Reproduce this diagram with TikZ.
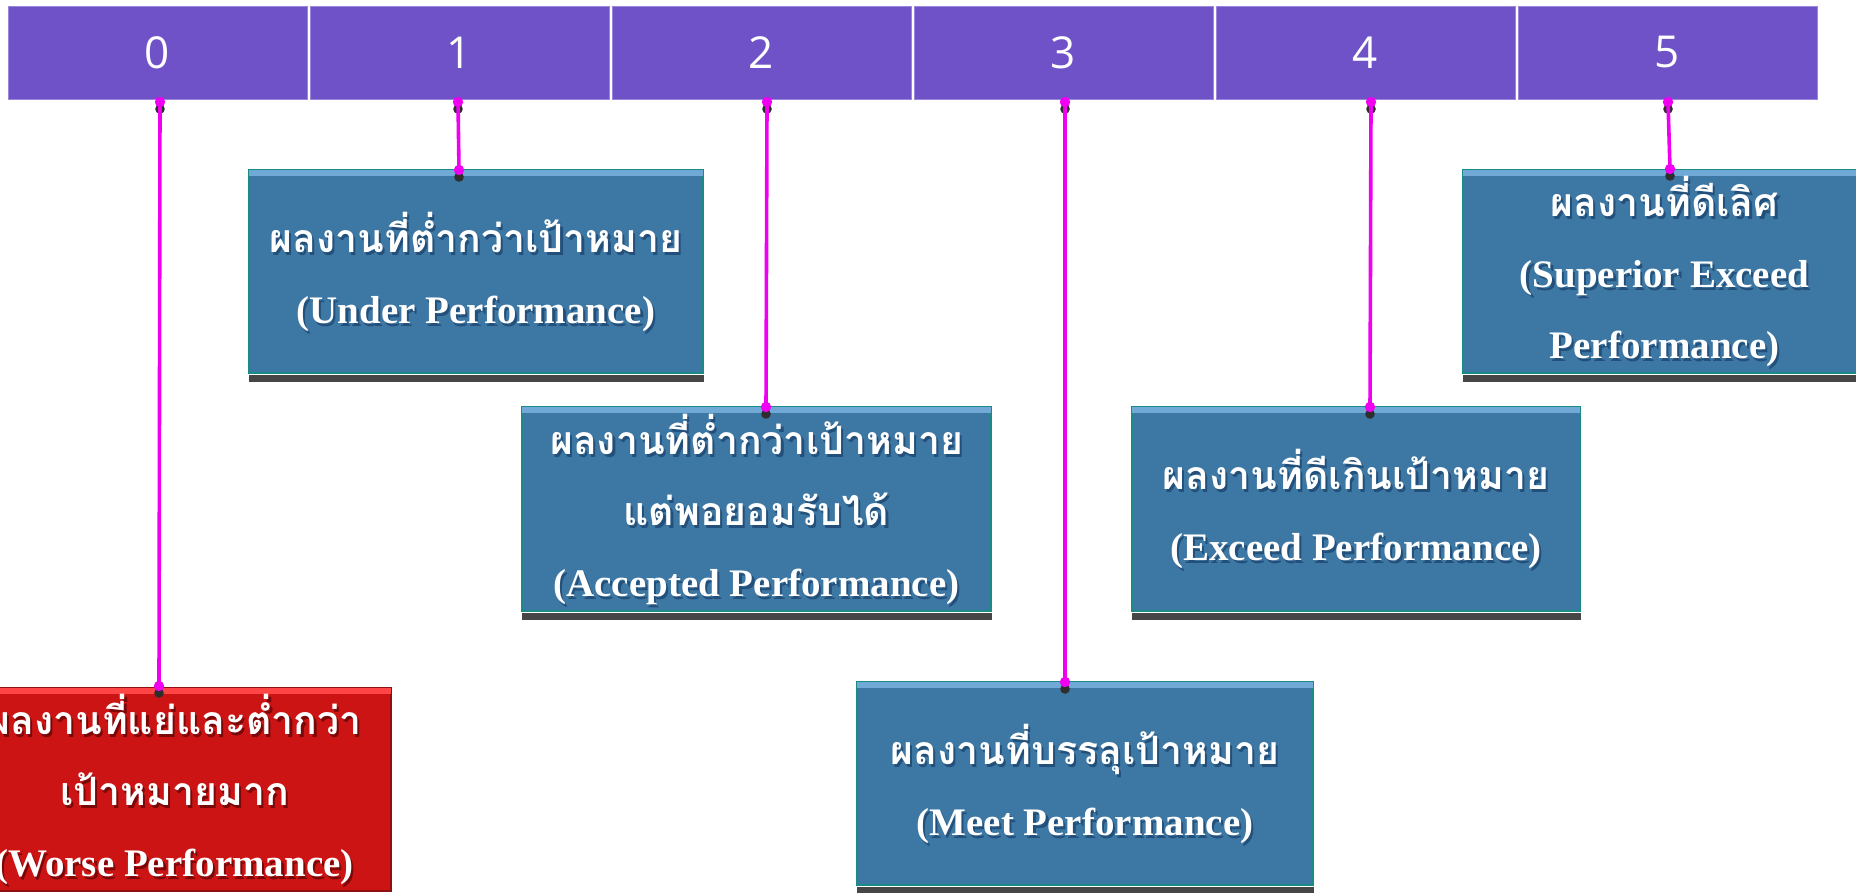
\documentclass[tikz,border=0pt]{standalone}
\usepackage{fontspec}
\setmainfont{Liberation Serif}
\newfontfamily\thaifont[Script=Thai]{Loma}
\newfontfamily\numfont{Open Sans}
\usetikzlibrary{calc}
\definecolor{cellpurple}{HTML}{7052C8}
\definecolor{celledge}{HTML}{9A86DC}
\definecolor{boxblue}{HTML}{3D77A3}
\definecolor{boxedge}{HTML}{1A8C84}
\definecolor{stripblue}{HTML}{70A8D6}
\definecolor{tshblue}{HTML}{23507A}
\definecolor{boxred}{HTML}{CC1414}
\definecolor{edgered}{HTML}{8E1010}
\definecolor{stripred}{HTML}{FF4545}
\definecolor{tshred}{HTML}{7A0808}
\definecolor{shadegray}{HTML}{464646}
\definecolor{linkmag}{HTML}{F000F0}
\definecolor{dotdark}{HTML}{2E2E2E}
\newcommand\thai{\thaifont\fontsize{19.6}{35.5}\selectfont}
\tikzset{
  cell/.style={rectangle, fill=cellpurple, draw=celledge, line width=0.4pt,
    minimum width=149.5pt, minimum height=46.5pt, inner sep=0pt,
    text=white, font=\numfont\fontsize{22}{26}\selectfont},
  cardblue/.style={rectangle, fill=boxblue, draw=boxedge, line width=1pt, inner sep=0pt},
  cardred/.style={rectangle, fill=boxred, draw=edgered, line width=1pt, inner sep=0pt},
  stripcolblue/.style={fill=stripblue},
  stripcolred/.style={fill=stripred},
  shade/.style={fill=shadegray},
  ctext/.style={align=center, inner sep=0pt, text=white,
    font=\bfseries\fontsize{19.5}{35.5}\selectfont},
  conn/.style={draw=linkmag, line width=1.8pt},
  magdot/.style={fill=linkmag},
  darkdot/.style={fill=dotdark}
}
% name, center, width, height, type, text
\newcommand\card[6]{%
  \node[card#5, minimum width=#3, minimum height=#4] (#1) at (#2) {};
  \fill[stripcol#5] ([shift={(0.5pt,-0.5pt)}]#1.north west) rectangle ([shift={(-0.5pt,-3.5pt)}]#1.north east);
  \fill[shade] ([shift={(0.5pt,-0.5pt)}]#1.south west) rectangle ([yshift=-3.8pt]#1.south east);
  \node[ctext, text=tsh#5] at ([shift={(1.1pt,-1.6pt)}]#1.center) {#6};
  \node[ctext] (#1t) at (#1.center) {#6};
}
\begin{document}
\begin{tikzpicture}[x=0.5pt, y=-0.5pt]
\useasboundingbox (0,0) rectangle (1856,893);
\clip (0,0) rectangle (1856,893);
\fill[white] (0,0) rectangle (1856,893);
% scale cells
\node[cell] (c0) at (157.5,52.5) {\raisebox{-2pt}{0}};
\node[cell] (c1) at (459.5,52.5) {\raisebox{-2pt}{1}};
\node[cell] (c2) at (761.5,52.5) {\raisebox{-2pt}{2}};
\node[cell] (c3) at (1063.5,52.5) {\raisebox{-2pt}{3}};
\node[cell] (c4) at (1365.5,52.5) {\raisebox{-2pt}{4}};
\node[cell] (c5) at (1667.5,52.5) {\raisebox{-2pt}{5}};
% cards
\card{b0}{174.5,789.5}{216.5pt}{101.5pt}{red}{{\thai ผลงานที่แย่และต่ำกว่า}\\{\thai เป้าหมายมาก}\\(Worse Performance)}
\card{b1}{476,271.5}{227pt}{101.5pt}{blue}{{\thai ผลงานที่ต่ำกว่าเป้าหมาย}\\(Under Performance)}
\card{b2}{756.5,509}{234.5pt}{102pt}{blue}{{\thai ผลงานที่ต่ำกว่าเป้าหมาย}\\{\thai แต่พอยอมรับได้}\\(Accepted Performance)}
\card{b3}{1085,783.5}{228pt}{101.5pt}{blue}{{\thai ผลงานที่บรรลุเป้าหมาย}\\(Meet Performance)}
\card{b4}{1356,509}{224pt}{102pt}{blue}{{\thai ผลงานที่ดีเกินเป้าหมาย}\\(Exceed Performance)}
\card{b5}{1664.5,271.5}{201.5pt}{101.5pt}{blue}{{\thai ผลงานที่ดีเลิศ}\\(Superior Exceed\\Performance)}
% connector ends
\coordinate (t0) at (160,102);  \coordinate (e0) at (159,686);
\coordinate (t1) at (458,102);  \coordinate (e1) at (459,170);
\coordinate (t2) at (767,102);  \coordinate (e2) at (766,407);
\coordinate (t3) at (1065,102); \coordinate (e3) at (1065,682);
\coordinate (t4) at (1371,102); \coordinate (e4) at (1370,407);
\coordinate (t5) at (1668,102); \coordinate (e5) at (1670,169);
\foreach \i in {0,...,5}{
  \fill[darkdot] ([yshift=-3.5pt]t\i) circle (2.4pt);
  \fill[darkdot] ([yshift=-3.5pt]e\i) circle (2.4pt);
  \draw[conn] (t\i) -- (e\i);
  \fill[magdot] (t\i) circle (2.6pt);
  \fill[magdot] (e\i) circle (2.6pt);
}
\end{tikzpicture}
\end{document}
